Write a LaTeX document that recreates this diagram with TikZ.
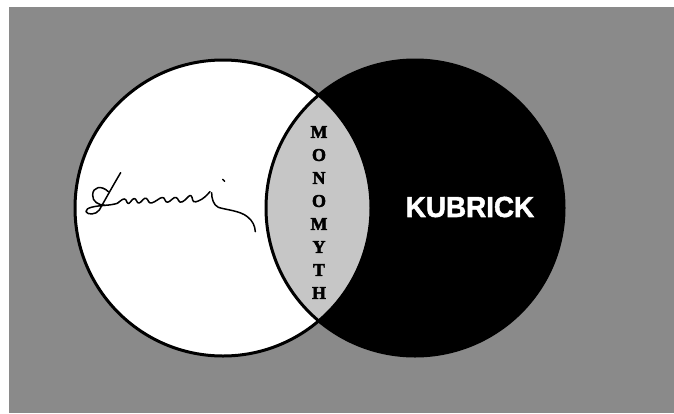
\documentclass[tikz,border=0pt]{standalone}
\usepackage{fontspec}
\setmainfont{Liberation Serif}
\newfontfamily\kubfont[BoldFeatures={FakeBold=1.8}]{Liberation Sans}
\newfontfamily\monofontx[BoldFeatures={FakeBold=2.5}]{Liberation Serif}
\definecolor{bggray}{RGB}{138,138,138}
\definecolor{lensgray}{RGB}{198,198,198}
\tikzset{
  outline/.style={draw=black, line width=3pt},
  sig/.style={draw=black, line width=1.5pt, line cap=round, line join=round},
}
\begin{document}
\begin{tikzpicture}[x=1pt,y=-1pt]
\useasboundingbox (0,0) rectangle (674,413);
\fill[white] (0,0) rectangle (674,413);
\fill[bggray] (9,7) rectangle (674,413);
% circles
\coordinate (cl) at (223,208);
\coordinate (cr) at (415,208);
\fill[white] (cl) ellipse [x radius=148, y radius=148];
\fill[black] (cr) ellipse [x radius=149, y radius=148];
\begin{scope}
  \clip (cl) ellipse [x radius=148, y radius=148];
  \fill[lensgray] (cr) ellipse [x radius=149, y radius=148];
\end{scope}
\draw[outline] (cl) ellipse [x radius=148, y radius=148];
\draw[outline] (cr) ellipse [x radius=149, y radius=148];
% texts
\node[text=white, font=\kubfont\bfseries\fontsize{29}{30}\selectfont, xscale=0.96] (kub) at (470,207) {KUBRICK};
\node[align=center, font=\monofontx\bfseries\fontsize{18}{23}\selectfont, inner sep=0pt] (mono) at (319,212.5) {M\\O\\N\\O\\M\\Y\\T\\H};
% signature
\begin{scope}[xshift=60pt, yshift=-150pt, x=0.3333pt, y=-0.3333pt]
  \draw[sig] (182,68) .. controls (160,105) and (135,150) .. (118,180)
    .. controls (108,195) and (82,195) .. (78,185)
    .. controls (75,172) and (110,168) .. (135,166)
    .. controls (150,165) and (162,163) .. (172,160);
  \draw[sig] (145,125) .. controls (125,105) and (98,110) .. (98,135)
    .. controls (97,155) and (115,165) .. (135,166);
  \draw[sig] (172,160) .. controls (185,150) and (192,142) .. (198,150)
    .. controls (202,160) and (205,165) .. (212,155)
    .. controls (220,143) and (226,143) .. (230,153)
    .. controls (234,163) and (240,160) .. (248,150)
    .. controls (256,140) and (262,145) .. (266,155)
    .. controls (270,163) and (280,158) .. (292,150)
    .. controls (305,140) and (312,140) .. (315,150)
    .. controls (318,160) and (326,158) .. (336,148)
    .. controls (346,138) and (352,142) .. (356,152)
    .. controls (360,162) and (372,155) .. (385,140)
    .. controls (392,132) and (396,138) .. (398,150)
    .. controls (400,160) and (412,155) .. (425,148)
    .. controls (440,138) and (445,130) .. (450,125);
  \draw[sig] (455,128) .. controls (455,145) and (460,165) .. (475,172)
    .. controls (500,180) and (540,182) .. (562,200)
    .. controls (578,212) and (585,228) .. (586,245);
  \draw[sig] (488,88) -- (494,94);
\end{scope}
\end{tikzpicture}
\end{document}
